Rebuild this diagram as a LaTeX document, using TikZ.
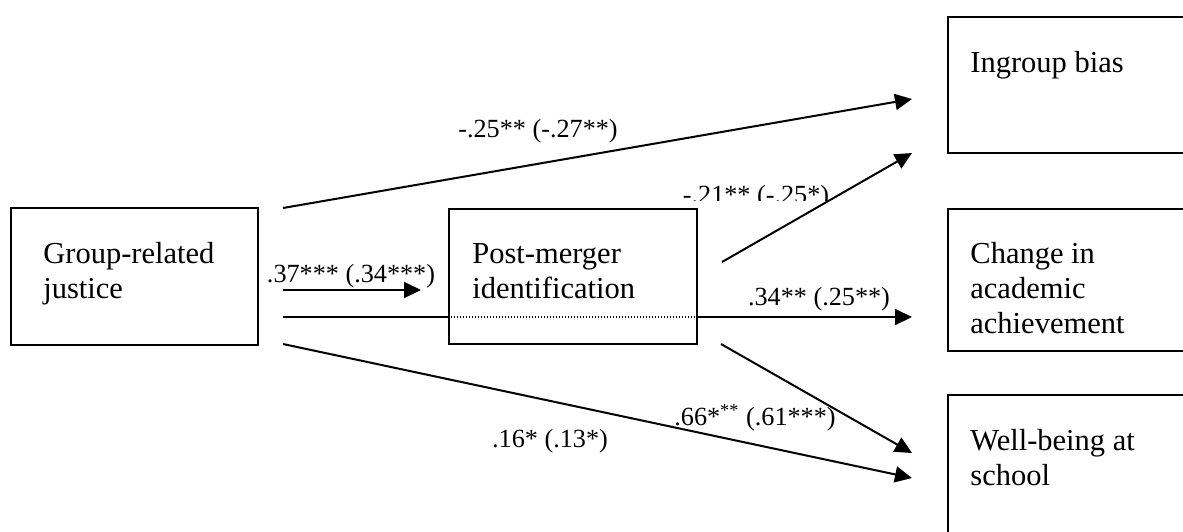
\documentclass[tikz,border=0pt]{standalone}
\usepackage{fontspec}
\setmainfont{Liberation Serif}
\usetikzlibrary{arrows.meta}
\begin{document}
\begin{tikzpicture}[x=0.5pt,y=-0.5pt,
  box/.style={draw, line width=1pt, inner sep=0pt, anchor=north west},
  boxtext/.style={font=\fontsize{15.25}{17.5}\selectfont, anchor=base west, inner sep=0pt, align=left},
  lbl/.style={font=\fontsize{13.1}{15}\selectfont, anchor=base, inner sep=0pt},
  conn/.style={line width=1pt, -{Triangle[length=8.5pt,width=8pt]}},
  plainline/.style={line width=1pt},
  dotline/.style={line width=0.7pt, dash pattern=on 0.6pt off 0.9pt}]
\useasboundingbox (0,0) rectangle (1183,531);
\clip (0,0) rectangle (1183,531);
% boxes
\node[box, minimum width=123.5pt, minimum height=68.5pt] (gj) at (10,207) {};
\node[box, minimum width=124pt, minimum height=67.5pt] (pm) at (448,208) {};
\node[box, minimum width=130pt, minimum height=68pt] (ib) at (947,16) {};
\node[box, minimum width=130pt, minimum height=71pt] (ca) at (947,208) {};
\node[box, minimum width=130pt, minimum height=90pt] (wb) at (947,394) {};
% box texts (anchor = baseline of last line)
\node[boxtext] (gjt) at (43,298) {Group-related\\justice};
\node[boxtext] (pmt) at (472,298) {Post-merger\\identification};
\node[boxtext] (ibt) at (970,72) {Ingroup bias};
\node[boxtext] (cat) at (970,333) {Change in\\academic\\achievement};
\node[boxtext] (wbt) at (970,485) {Well-being at\\school};
% connector end points
\coordinate (a1) at (283,208); \coordinate (b1) at (912,99);
\coordinate (a2) at (722,262); \coordinate (b2) at (912,153);
\coordinate (a3) at (283,317); \coordinate (b3) at (912,317);
\coordinate (a4) at (721,344); \coordinate (b4) at (912,453);
\coordinate (a5) at (283,344); \coordinate (b5) at (912,478);
\coordinate (a6) at (283,290); \coordinate (b6) at (421,290);
% connectors
\draw[conn] (a1) -- (b1);
\draw[plainline] (a3) -- (pm.west |- a3);
\draw[dotline] (pm.west |- a3) -- (pm.east |- a3);
\draw[conn] (pm.east |- a3) -- (b3);
\draw[conn] (a4) -- (b4);
\draw[conn] (a5) -- (b5);
\draw[conn] (a6) -- (b6);
% labels
\node[lbl] (l1) at (538,137) {-.25** (-.27**)};
\begin{scope}
\clip (600,150) rectangle (900,200.5);
\node[lbl] (l2) at (756,203) {-.21** (-.25*)};
\end{scope}
\draw[conn] (a2) -- (b2);
\node[lbl] (l3) at (819,305) {.34** (.25**)};
\node[lbl] (l4) at (755,425) {.66*\textsuperscript{**} (.61***)};
\node[lbl] (l5) at (550,447) {.16* (.13*)};
\node[lbl] (l6) at (351,282) {.37*** (.34***)};
\end{tikzpicture}
\end{document}
